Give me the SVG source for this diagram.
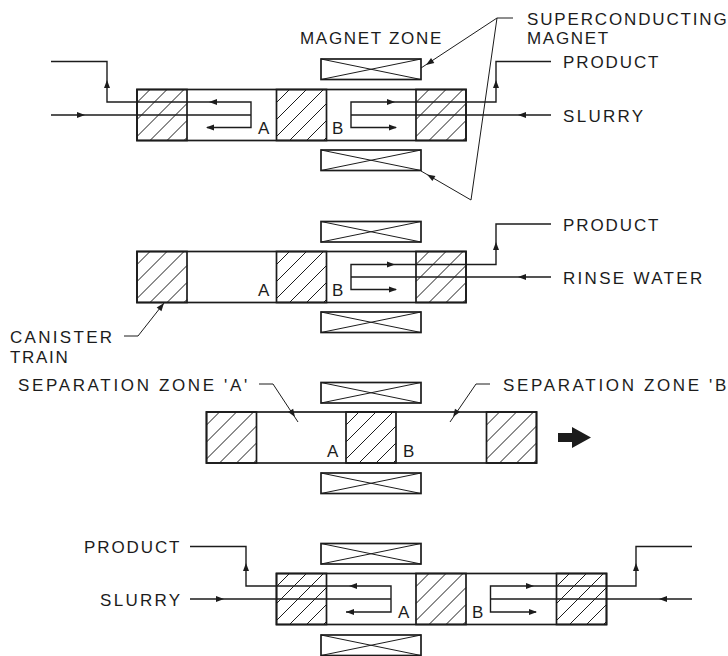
<svg xmlns="http://www.w3.org/2000/svg" width="728" height="656" viewBox="0 0 728 656">
<style>
.b{fill:none;stroke:#1c1c1c;stroke-width:1.7}
.h{fill:none;stroke:#1c1c1c;stroke-width:1}
.f{fill:none;stroke:#1c1c1c;stroke-width:1.4}
.a{fill:#1c1c1c;stroke:none}
text{font-family:"Liberation Sans",Arial,sans-serif;font-size:17px;fill:#1c1c1c;letter-spacing:1.7px}
.s{letter-spacing:0}
.w{letter-spacing:2.3px}
.x{letter-spacing:2.65px}
</style>
<defs>
<g id="mag"><rect class="b" x="0" y="0" width="100" height="20.500"/><path class="h" d="M0 0L100 20.500M0 20.500L100 0"/></g>
<g id="hat"><rect class="b" x="0" y="0" width="50" height="51"/><path class="h" d="M0 13L13 0M0 30L30 0M0 47L47 0M13 51L50 14M30 51L50 31M47 51L50 48"/></g>
<path id="ar" class="a" d="M0 0L-8 -3L-8 3Z"/>
</defs>
<g id="magnets">
<use href="#mag" x="321" y="59"/><use href="#mag" x="321" y="150"/>
<use href="#mag" x="321" y="221.500"/><use href="#mag" x="321" y="312"/>
<use href="#mag" x="321" y="382.500"/><use href="#mag" x="321" y="473"/>
<use href="#mag" x="321" y="543.500"/><use href="#mag" x="321" y="635"/>
</g>
<g id="train1"><rect class="b" x="137" y="89.500" width="329" height="51"/>
<use href="#hat" x="137" y="89.500"/><use href="#hat" x="276.500" y="89.500"/><use href="#hat" x="416" y="89.500"/></g>
<g id="train2"><rect class="b" x="137" y="251.500" width="329" height="51"/>
<use href="#hat" x="137" y="251.500"/><use href="#hat" x="276.500" y="251.500"/><use href="#hat" x="416" y="251.500"/></g>
<g id="train3"><rect class="b" x="206.500" y="412" width="330" height="51"/>
<use href="#hat" x="206.500" y="412"/><use href="#hat" x="346" y="412"/><use href="#hat" x="486.500" y="412"/></g>
<g id="train4"><rect class="b" x="276.500" y="573.500" width="330" height="51"/>
<use href="#hat" x="276.500" y="573.500"/><use href="#hat" x="416" y="573.500"/><use href="#hat" x="556.500" y="573.500"/></g>
<g id="connectors">
<path class="f" d="M51 61.500H107V102H251V127.500H207M51 115H251"/>
<path class="f" d="M551 61.500H496V102H351V127.500H396M551 115H351"/>
<path class="f" d="M551 224H496V264.500H351V289.500H396M551 277H351"/>
<path class="f" d="M190 546.500H246V586H391V612H346M190 599H391"/>
<path class="f" d="M692 546.500H636V586H490.500V612H536M692 599H490.500"/>
<path class="h" d="M513 18H497L421 68M497 18L471 200L421 171"/>
<path class="h" d="M124 336H138L164 303"/>
<path class="h" d="M259 384H273L298 422"/>
<path class="h" d="M490 384H476L450 422"/>
<use href="#ar" transform="translate(85,115)"/><use href="#ar" transform="translate(107,80) rotate(-90)"/>
<use href="#ar" transform="translate(209,102) rotate(180)"/><use href="#ar" transform="translate(206,127.500) rotate(180)"/>
<use href="#ar" transform="translate(395,102)"/><use href="#ar" transform="translate(397,127.500)"/>
<use href="#ar" transform="translate(496,80) rotate(-90)"/><use href="#ar" transform="translate(518,115) rotate(180)"/>
<use href="#ar" transform="translate(395,264.500)"/><use href="#ar" transform="translate(397,289.500)"/>
<use href="#ar" transform="translate(496,242) rotate(-90)"/><use href="#ar" transform="translate(518,277) rotate(180)"/>
<use href="#ar" transform="translate(246,563) rotate(-90)"/><use href="#ar" transform="translate(224,599)"/>
<use href="#ar" transform="translate(349,586) rotate(180)"/><use href="#ar" transform="translate(346,612) rotate(180)"/>
<use href="#ar" transform="translate(534,586)"/><use href="#ar" transform="translate(537,612)"/>
<use href="#ar" transform="translate(636,563) rotate(-90)"/><use href="#ar" transform="translate(659,599) rotate(180)"/>
<use href="#ar" transform="translate(426,65) rotate(146.700)"/><use href="#ar" transform="translate(427,174.500) rotate(210)"/>
<use href="#ar" transform="translate(164,303) rotate(-52)"/>
<use href="#ar" transform="translate(295,417) rotate(57)"/><use href="#ar" transform="translate(453,417) rotate(124)"/>
<path class="a" d="M558 433H572V427L591 437.500L572 448V442H558Z"/>
</g>
<g id="labels">
<text x="300" y="44">MAGNET ZONE</text>
<text x="527" y="25" style="letter-spacing:1.85px">SUPERCONDUCTING</text>
<text x="527" y="44">MAGNET</text>
<text x="563" y="68" style="letter-spacing:1.9px">PRODUCT</text>
<text class="w" x="563" y="122">SLURRY</text>
<text x="563" y="231" style="letter-spacing:1.9px">PRODUCT</text>
<text class="w" x="563" y="284">RINSE WATER</text>
<text class="w" x="10" y="343">CANISTER</text>
<text x="10" y="363">TRAIN</text>
<text class="x" x="18" y="391">SEPARATION ZONE 'A'</text>
<text class="x" x="503" y="391">SEPARATION ZONE 'B</text>
<text x="84" y="553" style="letter-spacing:1.9px">PRODUCT</text>
<text class="w" x="100" y="606">SLURRY</text>
<text class="s" x="258" y="134">A</text><text class="s" x="332" y="134">B</text>
<text class="s" x="258" y="296">A</text><text class="s" x="332" y="296">B</text>
<text class="s" x="327" y="457">A</text><text class="s" x="403" y="457">B</text>
<text class="s" x="398" y="618">A</text><text class="s" x="472" y="618">B</text>
</g>
</svg>
